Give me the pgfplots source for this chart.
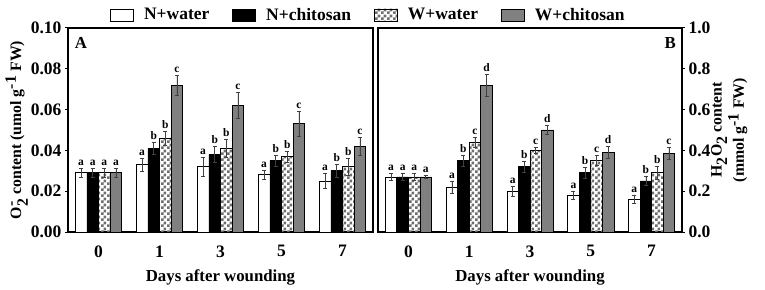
\documentclass[border=0pt]{standalone}
\usepackage{fontspec}
\setmainfont{Liberation Serif}
\usepackage{pgfplots}
\pgfplotsset{compat=1.18}
\usepackage{pgfplotstable}
\usetikzlibrary{patterns}

\definecolor{bargray}{RGB}{128,128,128}
\definecolor{chkgray}{RGB}{110,110,110}
\pgfdeclarepatternformonly{mychecker}{\pgfpointorigin}{\pgfqpoint{5.6pt}{5.6pt}}{\pgfqpoint{5.6pt}{5.6pt}}{%
  \pgfpathrectangle{\pgfpointorigin}{\pgfqpoint{2.8pt}{2.8pt}}%
  \pgfpathrectangle{\pgfqpoint{2.8pt}{2.8pt}}{\pgfqpoint{2.8pt}{2.8pt}}%
  \pgfusepath{fill}}

\newcommand{\tickf}{\fontsize{17.5}{20}\selectfont\bfseries}
\newcommand{\legf}{\fontsize{17.5}{20}\selectfont\bfseries}
\newcommand{\labelf}{\fontsize{16.8}{18}\selectfont\bfseries}
\newcommand{\ylabf}{\fontsize{15.8}{18}\selectfont\bfseries}
\newcommand{\labf}{\fontsize{11.5}{13}\selectfont\bfseries}

% Panel A: O2- content
\pgfplotstableread{
x y e l
0 0.029 0.0022 a
1 0.033 0.0032 a
2 0.032 0.0045 a
3 0.028 0.0020 a
4 0.025 0.0036 a
}\Anw
\pgfplotstableread{
x y e l
0 0.029 0.0022 a
1 0.041 0.0030 b
2 0.038 0.0040 b
3 0.035 0.0026 b
4 0.030 0.0033 b
}\Anc
\pgfplotstableread{
x y e l
0 0.029 0.0022 a
1 0.046 0.0033 b
2 0.041 0.0045 b
3 0.037 0.0027 b
4 0.032 0.0042 b
}\Aww
\pgfplotstableread{
x y e l
0 0.029 0.0022 a
1 0.072 0.0050 c
2 0.062 0.0065 c
3 0.053 0.0060 c
4 0.042 0.0046 c
}\Awc
% Panel B: H2O2 content
\pgfplotstableread{
x y e l
0 0.27 0.016 a
1 0.22 0.028 a
2 0.20 0.023 a
3 0.18 0.021 a
4 0.16 0.018 a
}\Bnw
\pgfplotstableread{
x y e l
0 0.27 0.016 a
1 0.35 0.028 b
2 0.32 0.025 b
3 0.29 0.025 b
4 0.25 0.021 b
}\Bnc
\pgfplotstableread{
x y e l
0 0.27 0.016 a
1 0.44 0.023 c
2 0.40 0.016 c
3 0.35 0.025 c
4 0.29 0.030 b
}\Bww
\pgfplotstableread{
x y e l
0 0.27 0.008 a
1 0.72 0.054 d
2 0.50 0.023 d
3 0.39 0.028 d
4 0.385 0.030 c
}\Bwc

\pgfplotsset{
  mybar/.style={ybar, bar width=0.19, bar shift=0pt, draw=black, line width=0.8pt,
    legend image code/.code={\draw[##1, line width=0.8pt] (0pt,-6pt) rectangle (23pt,6pt);
      \path (31pt,0pt);},
    error bars/y dir=both, error bars/y explicit,
    error bars/error bar style={line width=0.6pt, black!75},
    error bars/error mark options={rotate=90, mark size=2pt, line width=0.6pt, black!75}},
  mylab/.style={forget plot, only marks, mark=text, text mark={},
    nodes near coords, point meta=explicit symbolic,
    nodes near coords style={anchor=south, font=\labf, inner sep=0.5pt, yshift=2pt, black}},
  panel/.style={
    scale only axis, height=204pt,
    xmin=-0.5, xmax=4.5, xtick={0,1,2,3,4}, xticklabels={0,1,3,5,7},
    ymin=0,
    axis line style={line width=1.4pt},
    tick align=outside, major tick length=3pt,
    ytick style={line width=1pt, black},
    xtick style={draw=none},
    tick label style={font=\tickf},
    xticklabel style={yshift=-7pt},
    /pgf/number format/assume math mode=true,
    xlabel={Days after wounding},
    label style={font=\labelf},
    xlabel style={yshift=-5pt},
    clip=false,
  }
}

\begin{document}
\begin{tikzpicture}
\useasboundingbox (0,0) rectangle (765pt,289pt);
\begin{axis}[panel, width=305pt, at={(68pt,57pt)}, anchor=south west,
  ymax=0.10, ytick={0,0.02,0.04,0.06,0.08,0.10}, ytick pos=left,
  yticklabel style={/pgf/number format/.cd, fixed, fixed zerofill, precision=2},
  ylabel={O$^{\textbf{-}}_{\textbf{2}}$ content (umol g$^{\textbf{-1}}$ FW)},
  ylabel style={font=\ylabf, yshift=-4pt},
  legend columns=4,
  legend style={at={(0.985,1)}, anchor=south, yshift=2pt, draw=none, fill=none, font=\legf,
    /tikz/every even column/.append style={column sep=21pt}},
  ]
  \addplot[mybar, fill=white] table[x expr=\thisrow{x}-0.285, y=y, y error=e] {\Anw};
  \addlegendentry{N+water}
  \addplot[mybar, fill=black] table[x expr=\thisrow{x}-0.095, y=y, y error=e] {\Anc};
  \addlegendentry{N+chitosan}
  \addplot[mybar, pattern=mychecker, pattern color=chkgray] table[x expr=\thisrow{x}+0.095, y=y, y error=e] {\Aww};
  \addlegendentry{W+water}
  \addplot[mybar, fill=bargray] table[x expr=\thisrow{x}+0.285, y=y, y error=e] {\Awc};
  \addlegendentry{W+chitosan}
  \addplot[mylab] table[x expr=\thisrow{x}-0.285, y expr=\thisrow{y}+\thisrow{e}, meta=l] {\Anw};
  \addplot[mylab] table[x expr=\thisrow{x}-0.095, y expr=\thisrow{y}+\thisrow{e}, meta=l] {\Anc};
  \addplot[mylab] table[x expr=\thisrow{x}+0.095, y expr=\thisrow{y}+\thisrow{e}, meta=l] {\Aww};
  \addplot[mylab] table[x expr=\thisrow{x}+0.285, y expr=\thisrow{y}+\thisrow{e}, meta=l] {\Awc};
  \node[anchor=north west, inner sep=0pt, font=\labelf] at (rel axis cs:0.022,0.955) {A};
\end{axis}
\begin{axis}[panel, width=304pt, at={(378pt,57pt)}, anchor=south west,
  ymax=1.0, ytick={0,0.2,0.4,0.6,0.8,1.0}, ytick pos=right, yticklabel pos=right,
  yticklabel style={/pgf/number format/.cd, fixed, fixed zerofill, precision=1},
  ylabel={H$_{\textbf{2}}$O$_{\textbf{2}}$ content\\(mmol g$^{\textbf{-1}}$ FW)},
  ylabel style={align=center, yshift=6pt, font=\ylabf},
  ]
  \addplot[mybar, fill=white] table[x expr=\thisrow{x}-0.285, y=y, y error=e] {\Bnw};
  \addplot[mybar, fill=black] table[x expr=\thisrow{x}-0.095, y=y, y error=e] {\Bnc};
  \addplot[mybar, pattern=mychecker, pattern color=chkgray] table[x expr=\thisrow{x}+0.095, y=y, y error=e] {\Bww};
  \addplot[mybar, fill=bargray] table[x expr=\thisrow{x}+0.285, y=y, y error=e] {\Bwc};
  \addplot[mylab] table[x expr=\thisrow{x}-0.285, y expr=\thisrow{y}+\thisrow{e}, meta=l] {\Bnw};
  \addplot[mylab] table[x expr=\thisrow{x}-0.095, y expr=\thisrow{y}+\thisrow{e}, meta=l] {\Bnc};
  \addplot[mylab] table[x expr=\thisrow{x}+0.095, y expr=\thisrow{y}+\thisrow{e}, meta=l] {\Bww};
  \addplot[mylab] table[x expr=\thisrow{x}+0.285, y expr=\thisrow{y}+\thisrow{e}, meta=l] {\Bwc};
  \node[anchor=north east, inner sep=0pt, font=\labelf] at (rel axis cs:0.98,0.955) {B};
\end{axis}
\end{tikzpicture}
\end{document}
